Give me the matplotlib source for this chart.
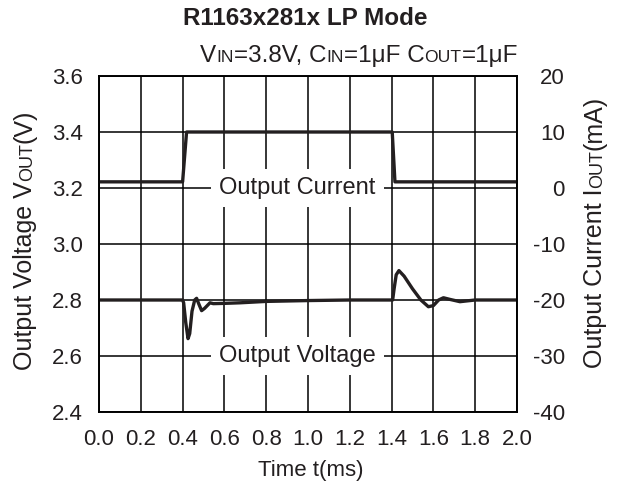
import matplotlib
matplotlib.use("Agg")
import matplotlib.pyplot as plt
from matplotlib.transforms import IdentityTransform

plt.rcParams["font.family"] = ["Liberation Sans", "DejaVu Sans"]

# Output voltage transient (ms, V)
time_ms = [0.00, 0.40, 0.405, 0.415, 0.426, 0.434, 0.445, 0.458, 0.467, 0.478,
           0.491, 0.505, 0.531, 0.547, 0.60, 0.675, 0.80, 1.00, 1.20, 1.405,
           1.412, 1.422, 1.435, 1.46, 1.50, 1.54, 1.576, 1.60, 1.625, 1.648,
           1.68, 1.727, 1.80, 2.00]
vout = [2.800, 2.800, 2.790, 2.720, 2.662, 2.680, 2.760, 2.800, 2.806, 2.785,
        2.762, 2.770, 2.790, 2.787, 2.788, 2.790, 2.795, 2.798, 2.800, 2.800,
        2.840, 2.890, 2.905, 2.885, 2.840, 2.800, 2.776, 2.780, 2.800, 2.808,
        2.802, 2.794, 2.800, 2.800]

# Load current step (ms, mA)
cur_time = [0.00, 0.400, 0.419, 1.403, 1.416, 2.00]
iout = [1.1, 1.1, 10.0, 10.0, 1.1, 1.1]

x_ticks = [0.0, 0.2, 0.4, 0.6, 0.8, 1.0, 1.2, 1.4, 1.6, 1.8, 2.0]
v_ticks = [2.4, 2.6, 2.8, 3.0, 3.2, 3.4, 3.6]
i_ticks = [-40, -30, -20, -10, 0, 10, 20]

INK = "#231f20"
W, H = 617, 487
fig = plt.figure(figsize=(W / 100, H / 100), dpi=100)
L, R, T, B = 99, 517, 76, 412
ax = fig.add_axes([L / W, 1 - B / H, (R - L) / W, (B - T) / H])

ax.set_xlim(0, 2.0)
ax.set_ylim(2.4, 3.6)
ax.set_xticks(x_ticks, labels=[f"{v:.1f}" for v in x_ticks])
ax.set_yticks(v_ticks, labels=[f"{v:.1f}" for v in v_ticks])
ax.grid(True, color="black", lw=1.1)
ax.set_axisbelow(True)
ax.tick_params(length=0, labelsize=16, colors=INK)
ax.tick_params(axis="x", pad=12.5)
ax.tick_params(axis="y", pad=11.5)
for s in ax.spines.values():
    s.set_linewidth(1.2)

ax.plot(time_ms, vout, color=INK, lw=2.4, solid_joinstyle="round")

ax2 = ax.twinx()
ax2.set_ylim(-40, 20)
ax2.set_yticks(i_ticks, labels=[str(v) for v in i_ticks])
ax2.tick_params(length=0, labelsize=16, pad=34.5, colors=INK)
plt.setp(ax2.get_yticklabels(), ha="right")
for s in ax2.spines.values():
    s.set_linewidth(1.2)
ax2.plot(cur_time, iout, color=INK, lw=2.4, solid_joinstyle="round")

box = dict(boxstyle="square,pad=0.35", fc="white", ec="none")
ax2.text(0.95, 0, "Output Current", ha="center", va="center", fontsize=17,
         color=INK, bbox=box, zorder=5)
ax2.text(0.95, -30, "Output Voltage", ha="center", va="center", fontsize=17,
         color=INK, bbox=box, zorder=5)


def place_runs(runs, x, y, rotation=0, align="center"):
    """Draw text made of differently sized pieces on one baseline (pixel coords)."""
    r = fig.canvas.get_renderer()
    widths = []
    for s, fs in runs:
        t = fig.text(0, 0, s, fontsize=fs, transform=IdentityTransform())
        widths.append(t.get_window_extent(r).width)
        t.remove()
    total = sum(widths)
    off = {"left": 0.0, "center": -total / 2, "right": -total}[align]
    for (s, fs), w in zip(runs, widths):
        px, py = (x, y + off) if rotation == 90 else (x + off, y)
        fig.text(px, py, s, fontsize=fs, rotation=rotation, rotation_mode="anchor",
                 ha="left", va="baseline", color=INK,
                 transform=IdentityTransform())
        off += w


fig.text(305.5, H - 25, "R1163x281x LP Mode", ha="center", va="baseline",
         fontsize=17.5, weight="bold", color=INK, transform=IdentityTransform())

place_runs([("V", 17.5), ("IN", 12.6), ("=3.8V, C", 17.5), ("IN", 12.6),
            ("=1μF C", 17.5), ("OUT", 12.6), ("=1μF", 17.5)],
           518, H - 62, align="right")

place_runs([("Output Voltage V", 18), ("OUT", 13), ("(V)", 18)],
           32, H - 240, rotation=90, align="center")
place_runs([("Output Current I", 18), ("OUT", 13), ("(mA)", 18)],
           602, H - 232, rotation=90, align="center")

fig.text(311, H - 476, "Time t(ms)", ha="center", va="baseline", fontsize=16,
         color=INK, transform=IdentityTransform())

fig.savefig("out.png", dpi=100)
